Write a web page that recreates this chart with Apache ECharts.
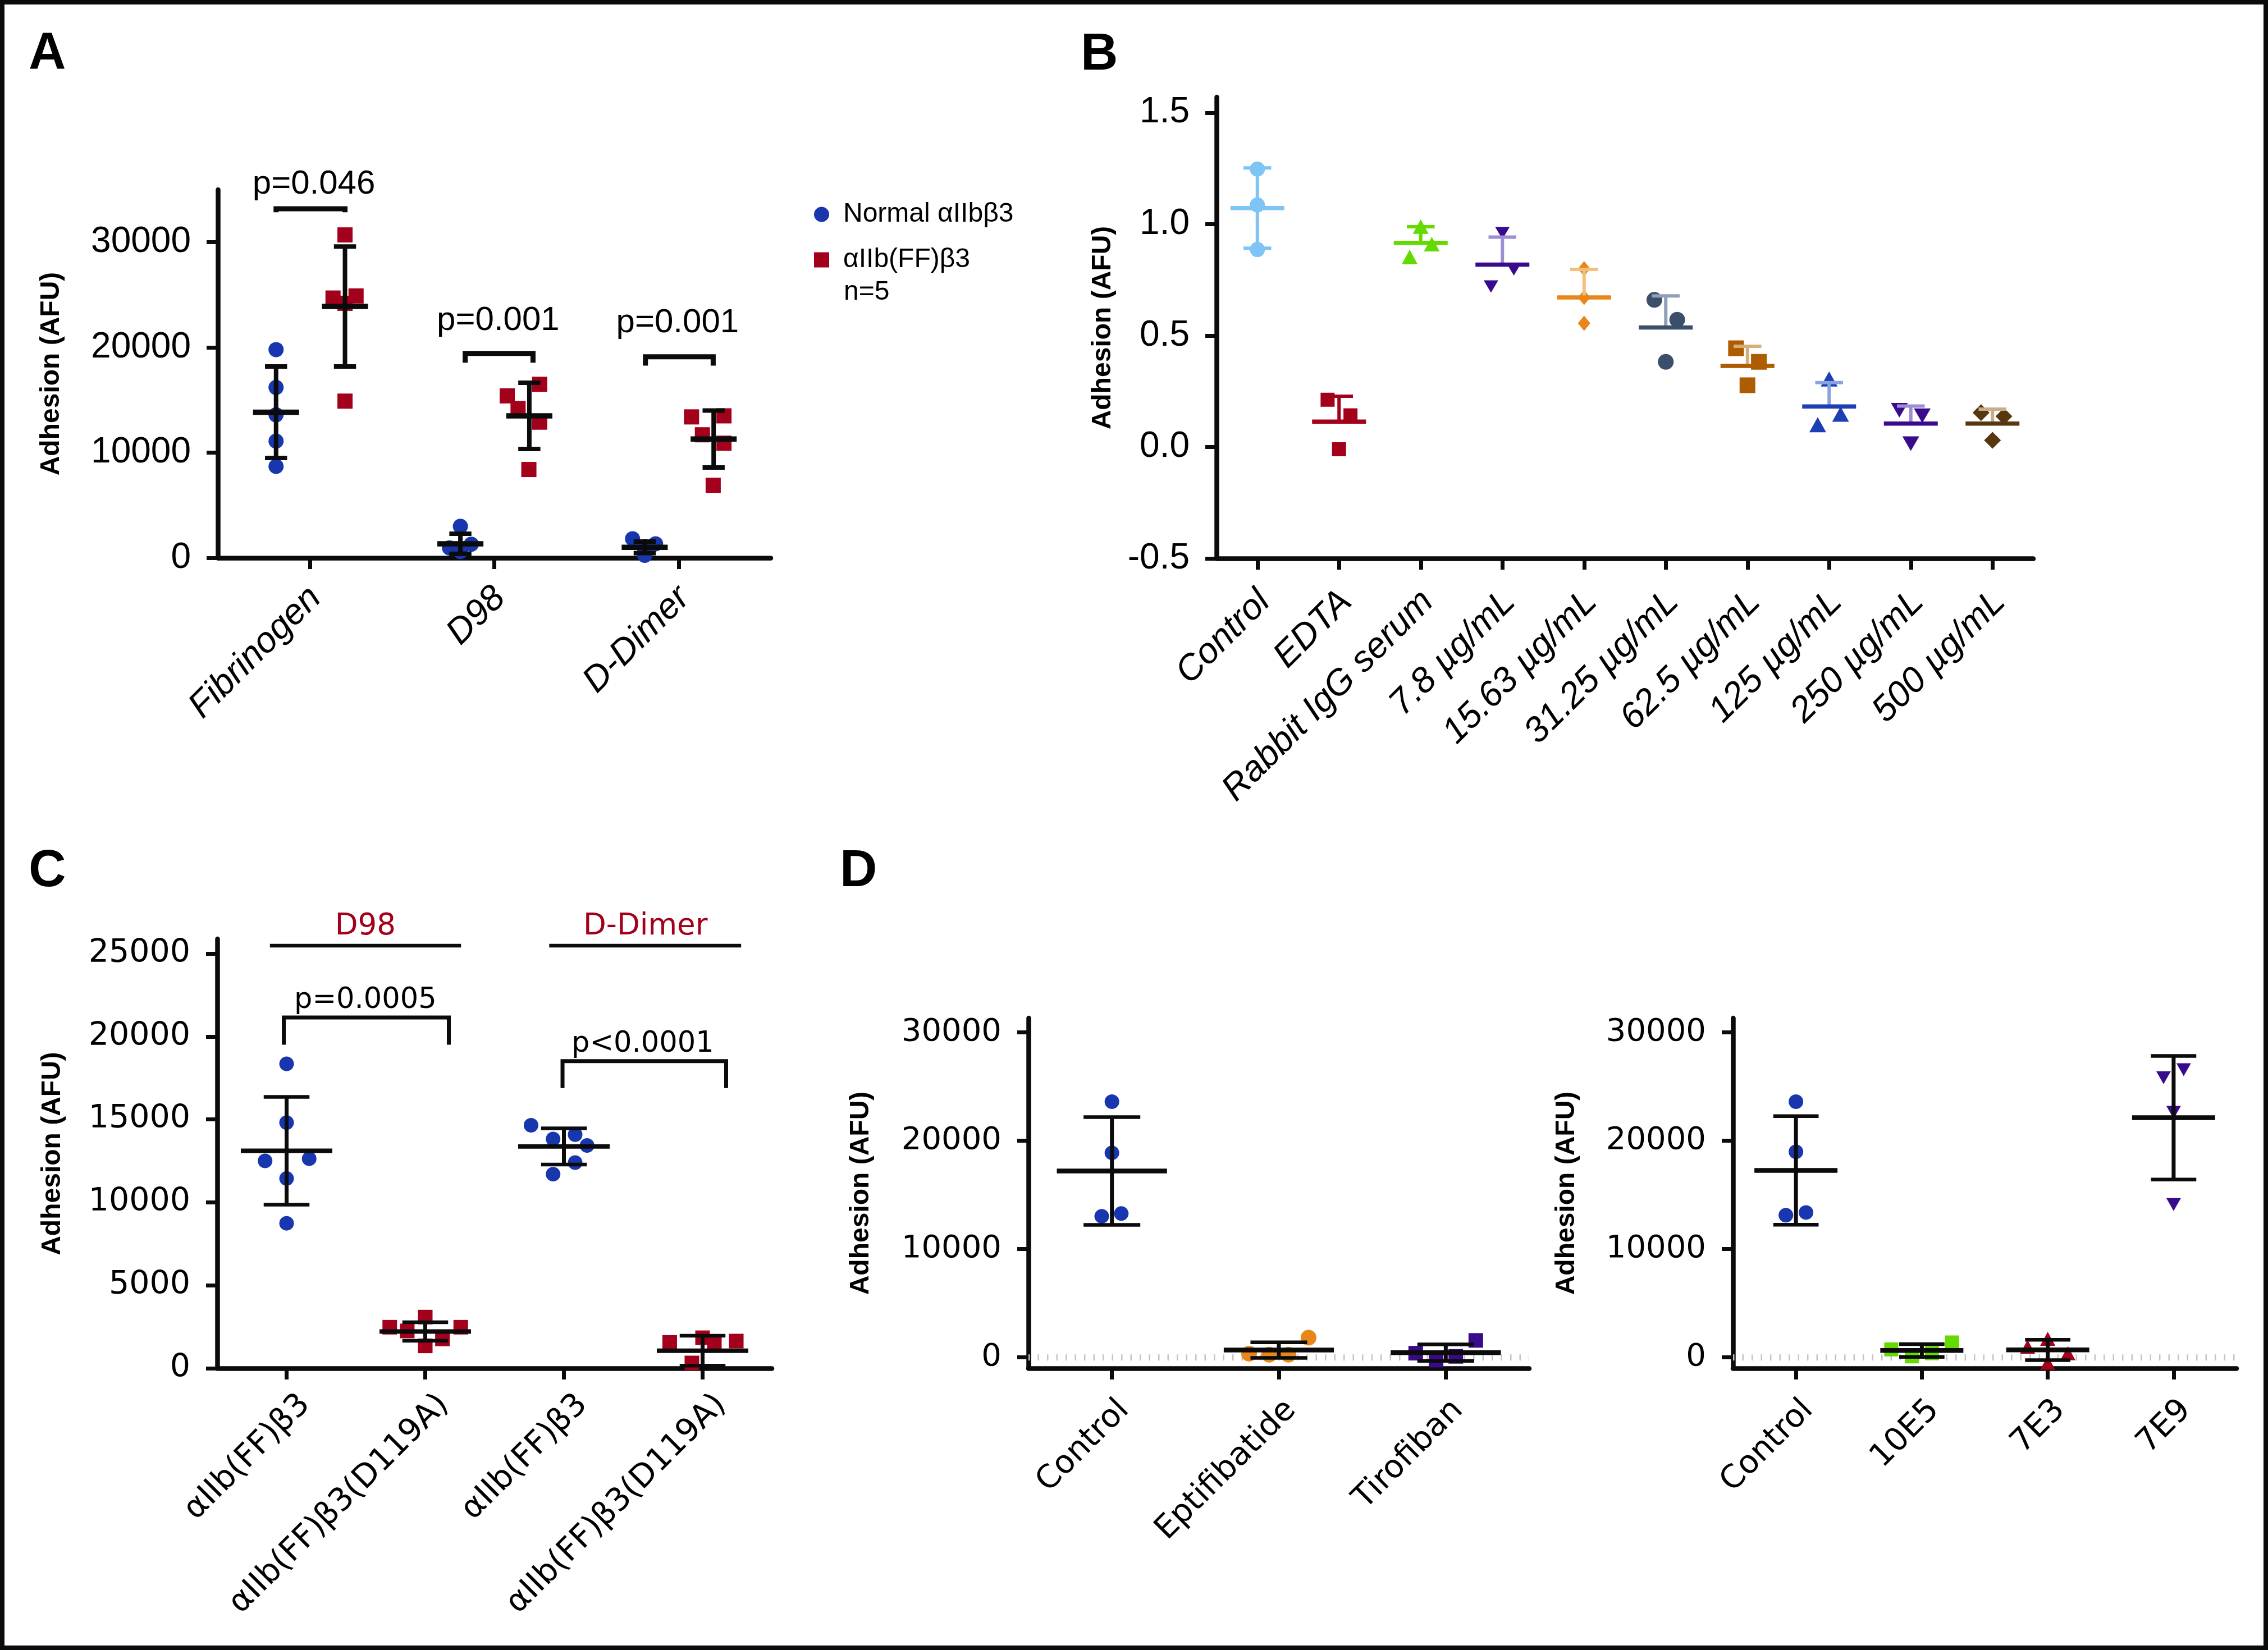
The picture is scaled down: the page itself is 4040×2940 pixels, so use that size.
<!DOCTYPE html>
<html><head><meta charset="utf-8">
<script src="https://cdn.jsdelivr.net/npm/echarts@6/dist/echarts.min.js"></script>
<style>html,body{margin:0;padding:0;background:#fff}#c{width:4040px;height:2940px}</style>
</head><body><div id="c"></div>
<script>
// ================= DATA =================
// Panel A
const catsA = ['Fibrinogen', 'D98', 'D-Dimer'];
const normalA = [[19800, 16200, 13600, 11100, 8700], [3000, 1300, 950, 800, 600], [1810, 1335, 1100, 620, 240]];
const ffA = [[30700, 24900, 24700, 24200, 14900], [16500, 15400, 14200, 12900, 8400], [13400, 13500, 11700, 10900, 6900]];
const normalMeanA = [13850, 1340, 1000];
const normalSdA = [4350, 950, 545];
const ffMeanA = [23900, 13500, 11300];
const ffSdA = [5700, 3150, 2710];
const pA = ['p=0.046', 'p=0.001', 'p=0.001'];
const yTicksA = [0, 10000, 20000, 30000];
const legendA = ['Normal αIIbβ3', 'αIIb(FF)β3'];

// Panel B
const catsB = ['Control', 'EDTA', 'Rabbit IgG serum', '7.8 µg/mL', '15.63 µg/mL', '31.25 µg/mL', '62.5 µg/mL', '125 µg/mL', '250 µg/mL', '500 µg/mL'];
const pointsB = [[1.247, 1.086, 0.886], [0.212, 0.142, -0.01], [0.989, 0.910, 0.853], [0.96, 0.797, 0.72], [0.80, 0.671, 0.555],
  [0.66, 0.571, 0.382], [0.443, 0.382, 0.277], [0.305, 0.147, 0.10], [0.165, 0.14, 0.015], [0.154, 0.138, 0.03]];
const meanB = [1.072, 0.114, 0.916, 0.818, 0.671, 0.536, 0.364, 0.182, 0.105, 0.105];
const sdB = [0.18, 0.114, 0.072, 0.124, 0.126, 0.142, 0.088, 0.107, 0.079, 0.065];
const yTicksB = [-0.5, 0, 0.5, 1.0, 1.5];

// Panel C
const catsC = ['αIIb(FF)β3', 'αIIb(FF)β3(D119A)', 'αIIb(FF)β3', 'αIIb(FF)β3(D119A)'];
const groupsC = ['D98', 'D-Dimer'];
const pointsC = [[18350, 14810, 12500, 12630, 11440, 8740], [3085, 2475, 2475, 2250, 1770, 1350],
  [14650, 13820, 14080, 13430, 12400, 11700], [1560, 1840, 1570, 1640, 320]];
const meanC = [13110, 2217, 13370, 1060];
const sdC = [3250, 560, 1090, 900];
const pC = ['p=0.0005', 'p<0.0001'];
const yTicksC = [0, 5000, 10000, 15000, 20000, 25000];

// Panel D (left)
const catsD1 = ['Control', 'Eptifibatide', 'Tirofiban'];
const pointsD1 = [[23590, 18870, 13020, 13270], [1820, 340, 250, 250], [1570, 390, -250, 100]];
const meanD1 = [17200, 680, 440];
const sdD1 = [4970, 720, 765];
// Panel D (right)
const catsD2 = ['Control', '10E5', '7E3', '7E9'];
const pointsD2 = [[23590, 18970, 13120, 13370], [1380, 740, 100, 390], [1720, 980, 390, -490], [26540, 25800, 22600, 14100]];
const meanD2 = [17250, 640, 690, 22110];
const sdD2 = [5010, 590, 935, 5700];
const yTicksD = [0, 10000, 20000, 30000];

const yTitle = 'Adhesion (AFU)';

// ================= LAYOUT (jitter / annotation placement, category units) =================
const jitNormA = [[-0.184, -0.184, -0.184, -0.184, -0.184], [-0.184, -0.125, -0.243, -0.184, -0.184], [-0.25, -0.125, -0.184, -0.184, -0.184]];
const jitFfA = [[0.19, 0.25, 0.125, 0.19, 0.19], [0.246, 0.07, 0.129, 0.246, 0.1875], [0.07, 0.246, 0.129, 0.246, 0.1875]];
const jitB = [[0, 0, 0], [-0.14, 0.14, 0], [0, 0.135, -0.135], [0, 0.14, -0.14], [0, 0, 0], [-0.14, 0.14, 0], [-0.14, 0.14, 0], [0, 0.14, -0.14], [-0.14, 0.14, 0], [-0.14, 0.14, 0]];
const jitC = [[0, 0, -0.155, 0.163, 0, 0], [0, -0.256, 0.256, -0.13, 0.124, 0], [-0.237, -0.078, 0.081, 0.167, 0.081, -0.078], [-0.237, 0, 0.085, 0.243, -0.077]];
const jitD1 = [[0, 0, -0.061, 0.056], [0.178, -0.178, -0.058, 0.058], [0.18, -0.18, -0.058, 0.06]];
const jitD2 = [[0, 0, -0.08, 0.08], [0.24, -0.243, -0.08, 0.08], [0, -0.16, 0.16, 0], [0.08, -0.08, 0, 0]];
const bracketsA = [[-0.184, 0.19, 33180, 32850], [0.842, 1.21, 19430, 18550], [1.82, 2.1875, 19110, 18270]];
const pPosA = [[0.021, 35500], [1.021, 22550], [1.994, 22310]];
const bracketsC = [[-0.02, 1.17, 21145, 19500], [1.99, 3.17, 18510, 16890]];
const pPosC = [[0.568, 22170], [2.568, 19540]];
const headLinesC = [[-0.12, 1.258, 25470], [1.894, 3.278, 25470]];
const headPosC = [[0.568, 26620], [2.588, 26620]];

// ================= STYLE =================
const BLACK = '#0b0b0b';
const FA = '"Liberation Sans", Arial, Helvetica, sans-serif';
const FC = '"DejaVu Sans", Verdana, sans-serif';
const BLUE = '#1836ad', RED = '#a3001b';
const DOWN = 'path://M0,0L10,0L5,8.66Z';
const symB = ['circle', 'rect', 'triangle', DOWN, 'diamond', 'circle', 'rect', 'triangle', DOWN, 'diamond'];
const sizeB = [27, 25, [28, 26], [26, 22], [22, 27], 28, 28, [30, 27], [30, 26], [30, 30]];
const colB = ['#7ec5f6', '#a3001b', '#64da00', '#3a0a8c', '#e8861a', '#3b4f6b', '#ae5c00', '#1c3fb4', '#3a0a8c', '#573710'];
const capB = ['#7ec5f6', '#a3001b', '#64da00', '#9c8ed2', '#f2c07c', '#90a0b8', '#d8ae78', '#8ba2e0', '#9c8ed2', '#c6ae8a'];

const grids = [
  { left: 388, top: 338, width: 985, height: 656 },
  { left: 2167, top: 173, width: 1455, height: 822 },
  { left: 387, top: 1673, width: 988, height: 765 },
  { left: 1832, top: 1814, width: 892, height: 624 },
  { left: 3087, top: 1814, width: 897, height: 624 }
];

function xAx(gi, cats, font, size, italic, margin, lh) {
  const idx = cats.map((_, i) => i);
  return {
    type: 'value', gridIndex: gi, min: -0.5, max: cats.length - 0.5,
    axisLine: { show: true, onZero: false, lineStyle: { color: BLACK, width: 8.5 } },
    axisTick: { show: true, length: 20, customValues: idx, lineStyle: { color: BLACK, width: 7 } },
    axisLabel: {
      show: true, customValues: idx, formatter: v => cats[Math.round(v)], rotate: 45, margin: margin,
      verticalAlign: 'top', lineHeight: lh,
      fontFamily: font, fontSize: size, fontStyle: italic ? 'italic' : 'normal', color: '#000'
    },
    splitLine: { show: false }
  };
}
function yAx(gi, min, max, ticks, fmt, font, size, gap) {
  return {
    type: 'value', gridIndex: gi, min: min, max: max,
    name: yTitle, nameLocation: 'middle', nameRotate: 90, nameGap: gap,
    nameTextStyle: { fontFamily: FA, fontWeight: 'bold', fontSize: 48, color: '#000' },
    axisLine: { show: true, onZero: false, lineStyle: { color: BLACK, width: 8.5 } },
    axisTick: { show: true, length: 20, customValues: ticks, lineStyle: { color: BLACK, width: 7 } },
    axisLabel: { show: true, customValues: ticks, formatter: fmt, margin: 48, fontFamily: font, fontSize: size, color: '#000' },
    splitLine: { show: false }
  };
}

function scatter(name, ai, xs, ys, symbol, size, color) {
  return {
    type: 'scatter', name: name, xAxisIndex: ai, yAxisIndex: ai, symbol: symbol, symbolSize: size,
    itemStyle: { color: color, opacity: 1 }, z: 2, silent: true, animation: false,
    data: ys.map((v, j) => [xs[j], v])
  };
}

function errSeries(ai, xs, means, sds, o) {
  return {
    type: 'custom', xAxisIndex: ai, yAxisIndex: ai, z: 4, silent: true, clip: false, animation: false,
    data: xs.map((x, i) => [x, means[i], sds[i], i]),
    renderItem: function (params, api) {
      const x = api.value(0), m = api.value(1), s = api.value(2), i = api.value(3);
      const u = api.size([1, 0])[0];
      const pm = api.coord([x, m]), pt = api.coord([x, m + s]), pb = api.coord([x, m - s]);
      const mc = Array.isArray(o.meanColor) ? o.meanColor[i] : o.meanColor;
      const cc = Array.isArray(o.capColor) ? o.capColor[i] : o.capColor;
      const upper = o.upperOnly ? o.upperOnly[i] : false;
      const ch = [
        { type: 'line', shape: { x1: pm[0], y1: pt[1], x2: pm[0], y2: upper ? pm[1] : pb[1] }, style: { stroke: cc, lineWidth: o.barW } },
        { type: 'line', shape: { x1: pm[0] - o.capHalf * u, y1: pt[1], x2: pm[0] + o.capHalf * u, y2: pt[1] }, style: { stroke: cc, lineWidth: o.capW } }
      ];
      if (!upper) ch.push({ type: 'line', shape: { x1: pm[0] - o.capHalf * u, y1: pb[1], x2: pm[0] + o.capHalf * u, y2: pb[1] }, style: { stroke: cc, lineWidth: o.capW } });
      ch.push({ type: 'line', shape: { x1: pm[0] - o.meanHalf * u, y1: pm[1], x2: pm[0] + o.meanHalf * u, y2: pm[1] }, style: { stroke: mc, lineWidth: o.meanW } });
      return { type: 'group', children: ch };
    }
  };
}

function bracketSeries(ai, list, lw) {
  return {
    type: 'custom', xAxisIndex: ai, yAxisIndex: ai, z: 5, silent: true, clip: false, animation: false,
    data: list,
    renderItem: function (params, api) {
      const x1 = api.value(0), x2 = api.value(1), yh = api.value(2), yl = api.value(3);
      const a = api.coord([x1, yl]), b = api.coord([x1, yh]), c = api.coord([x2, yh]), d = api.coord([x2, yl]);
      return { type: 'polyline', shape: { points: [a, b, c, d] }, style: { stroke: BLACK, lineWidth: lw, fill: null, lineJoin: 'miter' } };
    }
  };
}
function hlineSeries(ai, list, lw) {
  return {
    type: 'custom', xAxisIndex: ai, yAxisIndex: ai, z: 5, silent: true, clip: false, animation: false,
    data: list,
    renderItem: function (params, api) {
      const a = api.coord([api.value(0), api.value(2)]), b = api.coord([api.value(1), api.value(2)]);
      return { type: 'line', shape: { x1: a[0], y1: a[1], x2: b[0], y2: b[1] }, style: { stroke: BLACK, lineWidth: lw } };
    }
  };
}
function textSeries(ai, pos, texts, font, size, color) {
  return {
    type: 'custom', xAxisIndex: ai, yAxisIndex: ai, z: 6, silent: true, clip: false, animation: false,
    data: pos.map((p, i) => [p[0], p[1], i]),
    renderItem: function (params, api) {
      const p = api.coord([api.value(0), api.value(1)]);
      return { type: 'text', x: p[0], y: p[1], style: { text: texts[api.value(2)], fontFamily: font, fontSize: size, fill: color, align: 'center', verticalAlign: 'middle' } };
    }
  };
}
function zeroLine(ai, n) {
  return {
    type: 'line', xAxisIndex: ai, yAxisIndex: ai, z: 1, silent: true, animation: false, showSymbol: false, symbol: 'none',
    data: [[-0.5, 0], [n - 0.5, 0]], lineStyle: { color: '#c4c4c4', width: 11, type: [2.5, 14] }
  };
}

const series = [];
// ---- A ----
const flat = (arr, jit) => { const xs = [], ys = []; arr.forEach((g, i) => g.forEach((v, j) => { xs.push(i + jit[i][j]); ys.push(v); })); return [xs, ys]; };
let fa = flat(normalA, jitNormA);
series.push(scatter(legendA[0], 0, fa[0], fa[1], 'circle', 27, BLUE));
fa = flat(ffA, jitFfA);
series.push(scatter(legendA[1], 0, fa[0], fa[1], 'rect', 27, RED));
const aOpts = { meanColor: BLACK, capColor: BLACK, meanHalf: 0.125, capHalf: 0.06, meanW: 9.5, barW: 8, capW: 8 };
series.push(errSeries(0, catsA.map((_, i) => i - 0.184), normalMeanA, normalSdA, aOpts));
series.push(errSeries(0, catsA.map((_, i) => i + 0.19), ffMeanA, ffSdA, aOpts));
series.push(bracketSeries(0, bracketsA, 9));
series.push(textSeries(0, pPosA, pA, FA, 60, '#000'));
// ---- B ----
catsB.forEach((c, i) => series.push(scatter(c, 1, jitB[i].map(o => i + o), pointsB[i], symB[i], sizeB[i], colB[i])));
series.push(errSeries(1, catsB.map((_, i) => i), meanB, sdB, {
  meanColor: colB, capColor: capB, meanHalf: 0.33, capHalf: 0.17, meanW: 7.5, barW: 6, capW: 6,
  upperOnly: catsB.map((_, i) => i > 0)
}));
// ---- C ----
catsC.forEach((c, i) => series.push(scatter(c + '#' + i, 2, jitC[i].map(o => i + o), pointsC[i], i % 2 ? 'rect' : 'circle', 26, i % 2 ? RED : BLUE)));
series.push(errSeries(2, catsC.map((_, i) => i), meanC, sdC, { meanColor: BLACK, capColor: BLACK, meanHalf: 0.33, capHalf: 0.165, meanW: 8, barW: 7, capW: 6.5 }));
series.push(bracketSeries(2, bracketsC, 7));
series.push(textSeries(2, pPosC, pC, FC, 51, '#000'));
series.push(hlineSeries(2, headLinesC, 6.5));
series.push(textSeries(2, headPosC, groupsC, FC, 53, RED));
// ---- D left ----
const symD1 = ['circle', 'circle', 'rect'], colD1 = [BLUE, '#e8861a', '#3a0a8c'], sizeD1 = [26, 28, 26];
series.push(zeroLine(3, catsD1.length));
catsD1.forEach((c, i) => series.push(scatter(c + '#d1', 3, jitD1[i].map(o => i + o), pointsD1[i], symD1[i], sizeD1[i], colD1[i])));
series.push(errSeries(3, catsD1.map((_, i) => i), meanD1, sdD1, { meanColor: BLACK, capColor: BLACK, meanHalf: 0.33, capHalf: 0.17, meanW: 8.5, barW: 7, capW: 6.5 }));
// ---- D right ----
const symD2 = ['circle', 'rect', 'triangle', DOWN], colD2 = [BLUE, '#64da00', RED, '#3a0a8c'], sizeD2 = [26, 25, [27, 25], [26, 23]];
series.push(zeroLine(4, catsD2.length));
catsD2.forEach((c, i) => series.push(scatter(c + '#d2', 4, jitD2[i].map(o => i + o), pointsD2[i], symD2[i], sizeD2[i], colD2[i])));
series.push(errSeries(4, catsD2.map((_, i) => i), meanD2, sdD2, { meanColor: BLACK, capColor: BLACK, meanHalf: 0.33, capHalf: 0.18, meanW: 8.5, barW: 7, capW: 6.5 }));

const intFmt = v => String(Math.round(v));
const option = {
  backgroundColor: '#ffffff',
  animation: false,
  grid: grids,
  xAxis: [
    xAx(0, catsA, FA, 64, true, 52, 28),
    xAx(1, catsB, FA, 64, true, 55, 36),
    xAx(2, catsC, FC, 57, false, 23, 94),
    xAx(3, catsD1, FC, 57, false, 44, 62),
    xAx(4, catsD2, FC, 57, false, 44, 62)
  ],
  yAxis: [
    yAx(0, 0, 35000, yTicksA, intFmt, FA, 64, 272),
    yAx(1, -0.5, 1.57, yTicksB, v => v.toFixed(1), FA, 64, 178),
    yAx(2, 0, 25880, yTicksC, intFmt, FC, 57, 269),
    yAx(3, -1000, 31300, yTicksD, intFmt, FC, 56, 274),
    yAx(4, -1000, 31300, yTicksD, intFmt, FC, 56, 272)
  ],
  legend: {
    show: true, orient: 'vertical', left: 1445, top: 353, itemWidth: 27, itemHeight: 27, itemGap: 33,
    selectedMode: false, padding: 5,
    textStyle: { fontFamily: FA, fontSize: 48, color: '#000', padding: [0, 0, 0, 20] },
    data: [{ name: legendA[0], icon: 'circle' }, { name: legendA[1], icon: 'rect' }]
  },
  graphic: [
    { type: 'rect', z: 100, shape: { x: 4, y: 4, width: 4032, height: 2932 }, style: { fill: null, stroke: '#0a0c0b', lineWidth: 8 } },
    { type: 'text', left: 51, top: 51, style: { text: 'A', fontFamily: FA, fontWeight: 'bold', fontSize: 92, fill: '#000' } },
    { type: 'text', left: 1925, top: 53, style: { text: 'B', fontFamily: FA, fontWeight: 'bold', fontSize: 92, fill: '#000' } },
    { type: 'text', left: 51, top: 1508, style: { text: 'C', fontFamily: FA, fontWeight: 'bold', fontSize: 92, fill: '#000' } },
    { type: 'text', left: 1496, top: 1508, style: { text: 'D', fontFamily: FA, fontWeight: 'bold', fontSize: 92, fill: '#000' } },
    { type: 'text', left: 1503, top: 497, style: { text: 'n=5', fontFamily: FA, fontSize: 48, fill: '#000' } }
  ],
  series: series
};
const chart = echarts.init(document.getElementById('c'), null, { renderer: 'canvas', width: 4040, height: 2940 });
chart.setOption(option);
</script>
</body></html>
